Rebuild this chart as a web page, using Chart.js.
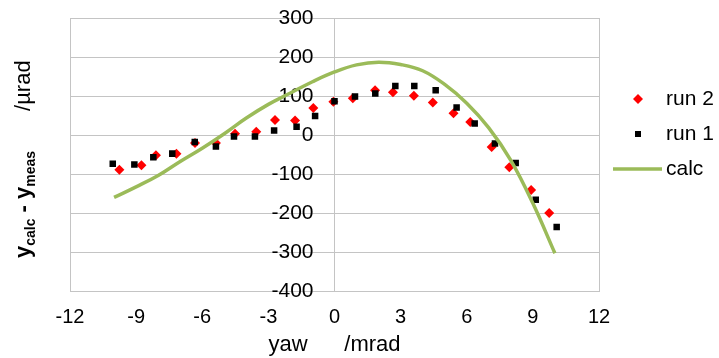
<!DOCTYPE html>
<html>
<head>
<meta charset="utf-8">
<script src="https://cdn.jsdelivr.net/npm/chart.js@4/dist/chart.umd.min.js"></script>
<style>
html, body { margin: 0; padding: 0; background: #fff; }
#wrap { width: 719px; height: 358px; }
</style>
</head>
<body>
<div id="wrap"><canvas id="yawChart"></canvas></div>
<script>
// values
const run2X = [-9.76, -8.76, -8.1, -7.17, -6.33, -5.38, -4.51, -3.55, -2.7, -1.79, -0.96, -0.05, 0.83, 1.84, 2.65, 3.6, 4.46, 5.4, 6.16, 7.13, 7.93, 8.92, 9.74];
const run2Y = [-88, -77, -51, -47, -20, -20, 4, 9, 39, 38, 70, 86, 95, 115, 110, 101, 84, 56, 34, -30, -82, -140, -199];

const run1X = [-10.06, -9.08, -8.22, -7.36, -6.34, -5.38, -4.56, -3.61, -2.74, -1.72, -0.88, 0.0, 0.93, 1.85, 2.76, 3.62, 4.59, 5.54, 6.36, 7.28, 8.22, 9.13, 10.08];
const run1Y = [-73, -75, -56, -47, -17, -29, -3, -3, 12, 22, 49, 87, 99, 107, 126, 126, 115, 71, 30, -21, -71, -165, -235];

const calcX = [-10, -9, -8, -7, -6, -5, -4, -3, -2, -1, 0, 1, 2, 3, 4, 5, 6, 7, 8, 9, 10];
const calcY = [-159, -132, -103, -67, -33, 4, 44, 79, 108, 137, 162, 180, 187, 181, 165, 130, 82, 19, -64, -174, -302];

const seriesNames = ['run 2', 'run 1', 'calc'];

function pts(xs, ys) {
    return xs.map((x, i) => ({ x: x, y: ys[i] }));
}

const GRID = '#c4c4c4';
const GREEN = '#9bbb59';
const FONT = 'Liberation Sans, Arial, sans-serif';

// y title with subscripts + legend, drawn on top
const extras = {
    id: 'extras',
    afterDraw(chart) {
        const c = chart.ctx;
        c.save();
        c.fillStyle = '#000';
        c.textBaseline = 'alphabetic';
        c.textAlign = 'left';

        // rotated y title
        c.translate(30, 258);
        c.rotate(-Math.PI / 2);
        let x = 0;
        const part = (txt, font, dy) => {
            c.font = font;
            c.fillText(txt, x, dy);
            x += c.measureText(txt).width;
        };
        part('y', 'bold 22px ' + FONT, 0);
        part('calc', 'bold 14px ' + FONT, 5);
        part(' - ', 'bold 22px ' + FONT, 0);
        part('y', 'bold 22px ' + FONT, 0);
        part('meas', 'bold 14px ' + FONT, 5);
        x += 40;
        part('/\u00b5rad', '22px ' + FONT, 0);
        c.restore();

        // legend
        c.save();
        c.font = '21px ' + FONT;
        c.textBaseline = 'middle';
        const rows = [99, 134, 169];
        c.fillStyle = '#ff0000';
        c.beginPath();
        c.moveTo(638, rows[0] - 5);
        c.lineTo(643, rows[0]);
        c.lineTo(638, rows[0] + 5);
        c.lineTo(633, rows[0]);
        c.closePath();
        c.fill();
        c.fillStyle = '#000';
        c.fillRect(635, rows[1] - 3, 6, 6);
        c.strokeStyle = GREEN;
        c.lineWidth = 3.5;
        c.beginPath();
        c.moveTo(613, rows[2]);
        c.lineTo(662, rows[2]);
        c.stroke();
        c.fillStyle = '#000';
        c.fillText(seriesNames[0], 666, rows[0]);
        c.fillText(seriesNames[1], 666, rows[1]);
        c.fillText(seriesNames[2], 666, rows[2]);
        c.restore();
    }
};

const ctx = document.getElementById('yawChart');
const chart = new Chart(ctx, {
    type: 'scatter',
    data: {
        datasets: [{
            label: seriesNames[0],
            data: pts(run2X, run2Y),
            pointStyle: 'rectRot',
            pointRadius: 5,
            backgroundColor: '#ff0000',
            borderColor: '#ff0000',
            borderWidth: 0,
            order: 3
        }, {
            label: seriesNames[1],
            data: pts(run1X, run1Y),
            pointStyle: 'rect',
            pointRadius: 4.6,
            backgroundColor: '#000',
            borderColor: '#000',
            borderWidth: 0,
            order: 2
        }, {
            label: seriesNames[2],
            data: pts(calcX, calcY),
            showLine: true,
            pointRadius: 0,
            borderColor: GREEN,
            borderWidth: 3.5,
            tension: 0.4,
            fill: false,
            order: 1
        }]
    },
    options: {
        responsive: true,
        maintainAspectRatio: false,
        animation: false,
        layout: {
            padding: { left: 70, right: 120, top: 18, bottom: 0 }
        },
        plugins: {
            legend: { display: false },
            tooltip: { enabled: false }
        },
        scales: {
            x: {
                type: 'linear',
                min: -12,
                max: 12,
                ticks: {
                    stepSize: 3,
                    color: '#000',
                    padding: 14,
                    font: { family: FONT, size: 20 }
                },
                grid: {
                    drawTicks: false,
                    color: (c) => (c.tick && Math.abs(c.tick.value) === 12) ? GRID : 'rgba(0,0,0,0)'
                },
                border: { display: false },
                title: {
                    display: true,
                    text: 'yaw      /mrad',
                    color: '#000',
                    font: { family: FONT, size: 22 },
                    padding: { top: -12, bottom: 0 }
                }
            },
            y: {
                type: 'linear',
                position: { x: 0 },
                min: -400,
                max: 300,
                afterFit: (scale) => {
                    scale.paddingTop = 0;
                    scale.paddingBottom = 0;
                },
                ticks: {
                    stepSize: 100,
                    color: '#000',
                    font: { family: FONT, size: 21 },
                    // labels sit left of the x=0 axis with a gap
                    callback: (v) => v + '\u2002\u2002'
                },
                grid: {
                    drawTicks: false,
                    color: GRID
                },
                border: { color: GRID }
            }
        }
    },
    plugins: [extras]
});
</script>
</body>
</html>
